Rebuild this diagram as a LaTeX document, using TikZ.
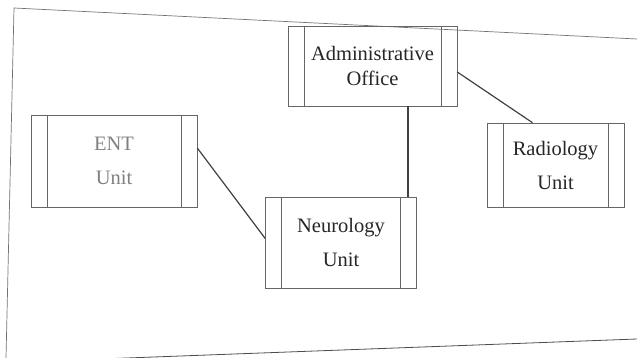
\documentclass[tikz,border=0pt]{standalone}
\usepackage{fontspec}
\setmainfont{Liberation Serif}
\usepackage{tikz}
\usetikzlibrary{positioning}

\tikzset{
    unitbox/.style={draw=black!60, line width=0.6pt, rectangle, align=center,
        font=\fontsize{20.5}{34}\selectfont, text=black!85,
        path picture={
            \draw[black!60, line width=0.6pt]
                ([xshift=16pt]path picture bounding box.north west) -- ([xshift=16pt]path picture bounding box.south west)
                ([xshift=-16pt]path picture bounding box.north east) -- ([xshift=-16pt]path picture bounding box.south east);
        }},
    link/.style={black!75, line width=1.2pt}
}

\begin{document}
\begin{tikzpicture}[x=1pt, y=-1pt]
    \useasboundingbox (0,0) rectangle (637,358);
    % scanned frame
    \draw[black!55, line width=0.7pt] (637,39) -- (14,8) -- (6,358);
    \draw[black!70, line width=0.8pt] (100,359) -- (637,339);

    % units
    \node[unitbox, minimum width=169pt, minimum height=80pt, font=\fontsize{20.5}{25}\selectfont] (admin) at (372.5,66) {Administrative\\Office};
    \node[unitbox, minimum width=166pt, minimum height=92pt, text=black!50] (ent) at (114,161) {ENT\\Unit};
    \node[unitbox, minimum width=151pt, minimum height=91pt] (neuro) at (341,242.5) {Neurology\\Unit};
    \node[unitbox, minimum width=137pt, minimum height=84pt] (radio) at (555.5,165) {Radiology\\Unit};

    % links
    \draw[link] ([yshift=13pt]ent.east) -- ([yshift=4pt]neuro.west);
    \draw[link] ([xshift=35.5pt]admin.south) -- ([xshift=67pt]neuro.north);
    \draw[link] ([yshift=-6pt]admin.east) -- ([xshift=-23pt]radio.north);
\end{tikzpicture}
\end{document}
